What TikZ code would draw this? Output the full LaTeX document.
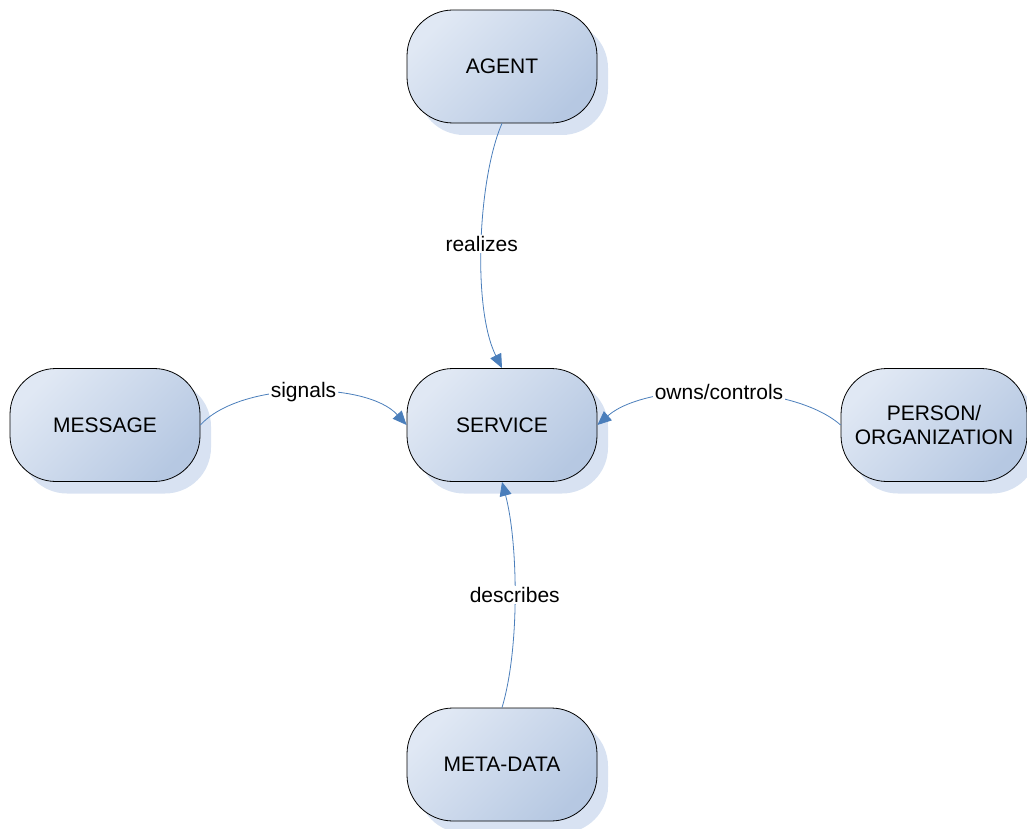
\documentclass[tikz,border=0pt]{standalone}
\usepackage{fontspec}
\setmainfont{Liberation Sans}
\usetikzlibrary{arrows.meta,shadows}
\definecolor{lite}{HTML}{E0E8F4}
\definecolor{dark}{HTML}{B6C8E2}
\definecolor{shad}{HTML}{D8E2F2}
\definecolor{linec}{HTML}{4A7EBB}
\begin{document}
\begin{tikzpicture}[x=1pt,y=-1pt,
  box/.style={draw=black, line width=0.8pt, rounded corners=46pt,
    minimum width=190pt, minimum height=113pt, align=center,
    font=\fontsize{21}{24.5}\selectfont,
    general shadow={fill=shad, shadow xshift=11pt, shadow yshift=-12pt},
    top color=lite, bottom color=dark, shading angle=45},
  conn/.style={draw=linec, line width=0.8pt, -{Triangle[length=14pt,width=12pt]}},
  lbl/.style={fill=white, inner sep=1.5pt, font=\fontsize{21}{24}\selectfont}]
\useasboundingbox (0,0) rectangle (1027,829);
\node[box] (agent) at (502,66.5) {AGENT};
\node[box] (service) at (502,425) {SERVICE};
\node[box] (message) at (105,425) {MESSAGE};
\node[box, minimum width=186pt] (person) at (934,425) {PERSON/\\ORGANIZATION};
\node[box] (meta) at (502,764.5) {META-DATA};
\draw[conn] (agent.south) .. controls +(-24,55) and +(-30,-60) .. node[lbl] {realizes} (service.north);
\draw[conn] (message.east) .. controls +(40,-44) and +(-40,-44) .. node[lbl] {signals} (service.west);
\draw[conn] (person.west) .. controls +(-50,-44) and +(50,-44) .. node[lbl] {owns/controls} (service.east);
\draw[conn] (meta.north) .. controls +(18,-60) and +(16,60) .. node[lbl] {describes} (service.south);
\end{tikzpicture}
\end{document}
